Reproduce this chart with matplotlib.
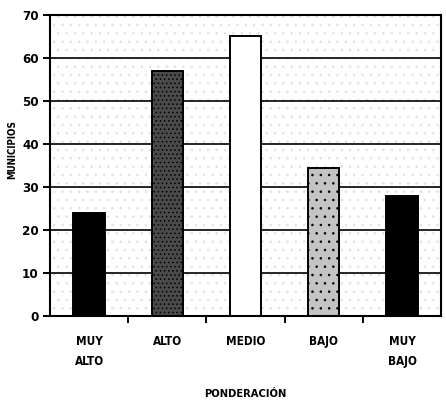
import matplotlib
matplotlib.use("Agg")
import matplotlib.pyplot as plt
import numpy as np

categorias = ["MUY\nALTO", "ALTO", "MEDIO", "BAJO", "MUY\nBAJO"]
municipios = [24, 57, 65, 34.5, 28]
colores = ["#000000", "#4a4a4a", "#ffffff", "#c4c4c4", "#000000"]
tramas = [None, "....", None, "..", None]
yticks = [0, 10, 20, 30, 40, 50, 60, 70]

plt.rcParams['font.family'] = ['DejaVu Sans']
plt.rcParams['font.stretch'] = 'condensed'
plt.rcParams['hatch.linewidth'] = 0.6

fig = plt.figure(figsize=(4.46, 4.04), dpi=100)
ax = fig.add_axes([0.112, 0.218, 0.877, 0.745])

x = np.arange(len(categorias))
ax.set_xlim(-0.5, len(categorias) - 0.5)
ax.set_ylim(0, 70)

# fondo punteado
ax.axhspan(0, 70, facecolor="white", hatch="..", edgecolor="#e2e2e2", linewidth=0, zorder=0)

for v in yticks[1:-1]:
    ax.axhline(v, color="black", linewidth=1.2, zorder=1)

for i in range(len(categorias)):
    ax.bar(x[i], municipios[i], width=0.4, color=colores[i], hatch=tramas[i],
           edgecolor="black", linewidth=1.4, zorder=2)

ax.set_yticks(yticks)
ax.set_yticklabels([str(v) for v in yticks], fontsize=9.5, fontweight="bold")
ax.set_xticks(x[:-1] + 0.5)
ax.set_xticklabels([])
ax.set_xticks(x, minor=True)
ax.set_xticklabels(categorias, minor=True, fontsize=8.5, fontweight="bold",
                   va="top", linespacing=1.7)
ax.tick_params(axis="x", which="minor", length=0, pad=14)
ax.tick_params(axis="x", which="major", length=5, width=1.4, direction="out")
ax.tick_params(axis="y", length=5, width=1.4, direction="out", pad=3)

for s in ax.spines.values():
    s.set_linewidth(1.5)

fig.text(0.027, 0.63, "MUNICIPIOS", rotation=90, ha="center", va="center",
         fontsize=7, fontweight="bold")
ax.set_xlabel("PONDERACIÓN", fontsize=8, fontweight="bold", labelpad=15)

fig.savefig("out.png", dpi=100)
